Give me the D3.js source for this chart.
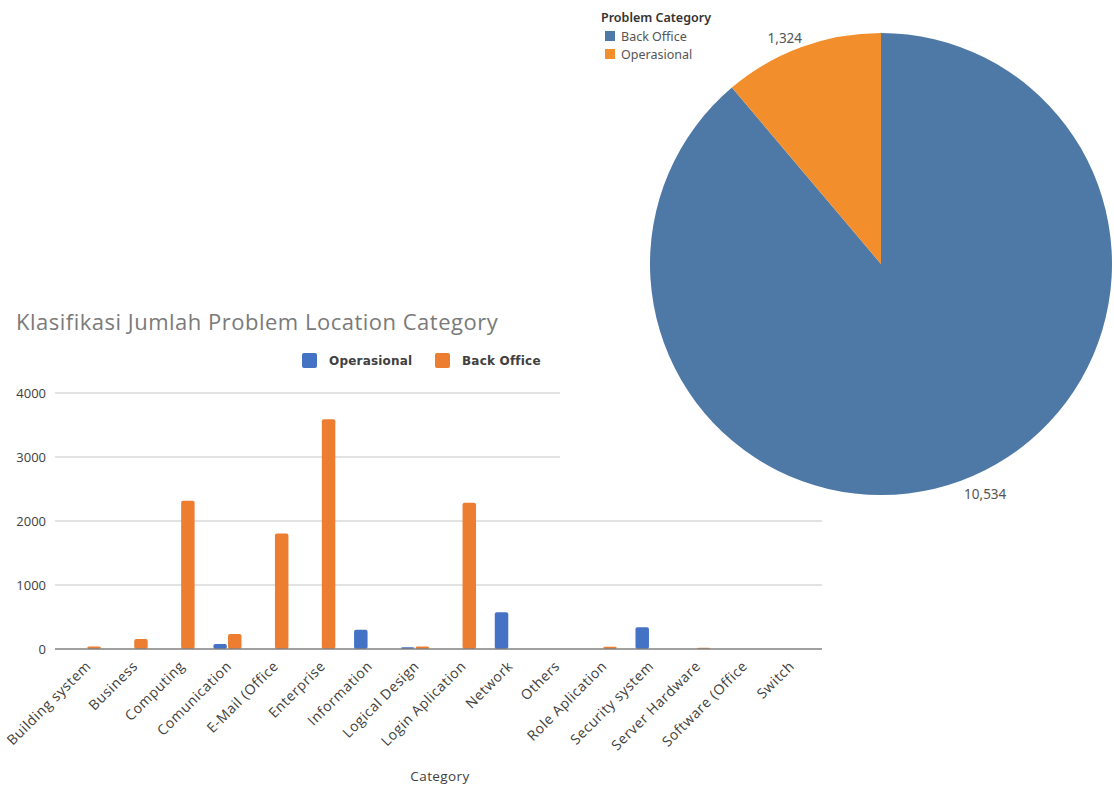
<!DOCTYPE html>
<html>
<head>
<meta charset="utf-8">
<script src="https://cdn.jsdelivr.net/npm/d3@7"></script>
<style>
  body { margin: 0; background: #fff; }
  svg { display: block; }
</style>
</head>
<body>
<div id="chart-area"></div>
<script>
// bar chart data
var categories = ["Building system", "Business", "Computing", "Comunication", "E-Mail (Office",
    "Enterprise", "Information", "Logical Design", "Login Aplication", "Network", "Others",
    "Role Aplication", "Security system", "Server Hardware", "Software (Office", "Switch"];
var seriesNames = ["Operasional", "Back Office"];
var operasional = [0, 0, 0, 80, 0, 0, 300, 29, 0, 575, 0, 0, 340, 0, 0, 0];
var backOffice = [40, 155, 2315, 234, 1805, 3590, 0, 40, 2285, 0, 0, 35, 0, 20, 0, 0];
var yTicks = [0, 1000, 2000, 3000, 4000];

// pie data
var pieCategories = ["Back Office", "Operasional"];
var pieValues = [10534, 1324];

var barColour = d3.scaleOrdinal().domain(seriesNames).range(["#4472C4", "#ED7D31"]);
var pieColour = d3.scaleOrdinal().domain(pieCategories).range(["#4E79A7", "#F28E2B"]);

var W = 1114, H = 785;
var svg = d3.select("#chart-area").append("svg")
    .attr("width", W)
    .attr("height", H);

// ---------- bar chart ----------
var plot = {left: 55, right: 822, top: 393, bottom: 649};

var x0 = d3.scaleBand()
    .domain(categories)
    .range([plot.left, plot.right])
    .paddingInner(0.4)
    .paddingOuter(0.377);

var x1 = d3.scaleBand()
    .domain(seriesNames)
    .range([0, x0.bandwidth()])
    .paddingInner(0.08);

var y = d3.scaleLinear()
    .domain([0, 4000])
    .range([plot.bottom, plot.top]);

var bars = svg.append("g").attr("class", "bar-chart");

bars.append("text")
    .attr("x", 16)
    .attr("y", 330)
    .attr("font-family", "'Open Sans', sans-serif")
    .attr("font-size", "22px")
    .attr("letter-spacing", "0.5px")
    .attr("fill", "#7a7a7a")
    .text("Klasifikasi Jumlah Problem Location Category");

// gridlines
bars.append("g")
    .selectAll("line")
    .data(yTicks.filter(function(d) { return d > 0; }))
    .enter().append("line")
    .attr("x1", plot.left)
    .attr("x2", plot.right)
    .attr("y1", function(d) { return y(d); })
    .attr("y2", function(d) { return y(d); })
    .attr("stroke", "#d9d9d9")
    .attr("stroke-width", 1.3);

var yAxisCall = d3.axisLeft(y)
    .tickValues(yTicks)
    .tickSize(0)
    .tickPadding(9)
    .tickFormat(d3.format("d"));
var yAxis = bars.append("g")
    .attr("transform", "translate(" + plot.left + ",0)")
    .call(yAxisCall);
yAxis.select(".domain").remove();
yAxis.selectAll("text")
    .attr("font-family", "'Open Sans', sans-serif")
    .attr("font-size", "13px")
    .attr("fill", "#404040");

// bars
var rows = categories.map(function(c, i) {
    return {category: c, values: [
        {series: "Operasional", value: operasional[i]},
        {series: "Back Office", value: backOffice[i]}
    ]};
});

var groups = bars.append("g")
    .selectAll("g")
    .data(rows)
    .enter().append("g")
    .attr("transform", function(d) { return "translate(" + x0(d.category) + ",0)"; });

groups.selectAll("rect")
    .data(function(d) { return d.values.filter(function(v) { return v.value > 0; }); })
    .enter().append("rect")
    .attr("x", function(d) { return x1(d.series); })
    .attr("y", function(d) { return y(d.value); })
    .attr("width", x1.bandwidth())
    .attr("height", function(d) { return y(0) - y(d.value); })
    .attr("rx", 2)
    .attr("fill", function(d) { return barColour(d.series); });

// baseline
bars.append("line")
    .attr("x1", plot.left)
    .attr("x2", plot.right)
    .attr("y1", y(0))
    .attr("y2", y(0))
    .attr("stroke", "#808080")
    .attr("stroke-width", 1.5);

var xAxisCall = d3.axisBottom(x0).tickSize(0).tickPadding(0);
var xAxis = bars.append("g")
    .attr("transform", "translate(0," + y(0) + ")")
    .call(xAxisCall);
xAxis.select(".domain").remove();
xAxis.selectAll("text")
    .attr("font-family", "'Open Sans', sans-serif")
    .attr("font-size", "14px")
    .attr("letter-spacing", "0.6px")
    .attr("fill", "#404040")
    .attr("text-anchor", "end")
    .attr("dy", "0")
    .attr("y", 0)
    .attr("transform", "translate(5,18) rotate(-45)");

bars.append("text")
    .attr("x", 440)
    .attr("y", 781)
    .attr("text-anchor", "middle")
    .attr("font-family", "'Open Sans', sans-serif")
    .attr("font-size", "13.5px")
    .attr("letter-spacing", "0.4px")
    .attr("fill", "#404040")
    .text("Category");

// legend
var barLegend = bars.append("g")
    .attr("transform", "translate(302,353)");
var legendX = [0, 133];
seriesNames.forEach(function(s, i) {
    var row = barLegend.append("g")
        .attr("transform", "translate(" + legendX[i] + ",0)");
    row.append("rect")
        .attr("width", 15)
        .attr("height", 15)
        .attr("rx", 2)
        .attr("fill", barColour(s));
    row.append("text")
        .attr("x", 27)
        .attr("y", 12)
        .attr("font-family", "'DejaVu Sans', sans-serif")
        .attr("font-size", "12px")
        .attr("font-weight", "600")
        .attr("letter-spacing", "0.2px")
        .attr("fill", "#404040")
        .text(s);
});

// ---------- pie chart (sits on its own white panel) ----------
svg.append("rect")
    .attr("x", 560)
    .attr("y", 0)
    .attr("width", W - 560)
    .attr("height", 505)
    .attr("fill", "#fff");

var cx = 881, cy = 264, radius = 231;
var pie = d3.pie().sort(null).value(function(d) { return d.value; });
var pieData = pie(pieCategories.map(function(c, i) { return {name: c, value: pieValues[i]}; }));
var arc = d3.arc().innerRadius(0).outerRadius(radius);
var labelArc = d3.arc().innerRadius(radius + 14).outerRadius(radius + 14);

var pieG = svg.append("g")
    .attr("transform", "translate(" + cx + "," + cy + ")");

pieG.selectAll("path")
    .data(pieData)
    .enter().append("path")
    .attr("d", arc)
    .attr("fill", function(d) { return pieColour(d.data.name); });

var labelNudge = [[20, 0], [-12, 4]];
pieG.selectAll("text")
    .data(pieData)
    .enter().append("text")
    .attr("transform", function(d, i) {
        var c = labelArc.centroid(d);
        return "translate(" + (c[0] + labelNudge[i][0]) + "," + (c[1] + labelNudge[i][1]) + ")";
    })
    .attr("text-anchor", "middle")
    .attr("dy", "0.35em")
    .attr("font-family", "'Noto Sans', sans-serif")
    .attr("font-size", "13.5px")
    .attr("fill", "#555")
    .text(function(d) { return d3.format(",")(d.value); });

var pieLegend = svg.append("g")
    .attr("transform", "translate(601,0)");
pieLegend.append("text")
    .attr("x", 0)
    .attr("y", 22)
    .attr("font-family", "'Noto Sans', sans-serif")
    .attr("font-size", "12.5px")
    .attr("font-weight", "600")
    .attr("fill", "#333")
    .text("Problem Category");
pieCategories.forEach(function(c, i) {
    var row = pieLegend.append("g")
        .attr("transform", "translate(4," + (31 + i * 18) + ")");
    row.append("rect")
        .attr("width", 10)
        .attr("height", 10)
        .attr("fill", pieColour(c));
    row.append("text")
        .attr("x", 16)
        .attr("y", 10)
        .attr("font-family", "'Noto Sans', sans-serif")
        .attr("font-size", "12.5px")
        .attr("fill", "#555")
        .text(c);
});
</script>
</body>
</html>
